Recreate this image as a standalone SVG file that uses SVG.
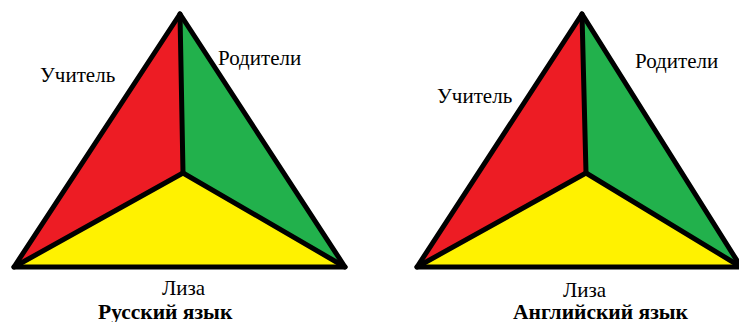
<svg xmlns="http://www.w3.org/2000/svg" width="739" height="322" viewBox="0 0 739 322">
<style>
.edge{stroke:#000;stroke-width:5;stroke-linejoin:round;stroke-linecap:round;fill:none}
.r{fill:#ED1C24}.g{fill:#22B14C}.y{fill:#FFF200}
text{font-family:'Liberation Serif','Times New Roman','DejaVu Serif',serif;fill:#000}
.lbl{font-size:21px}
.ttl{font-size:21.5px;font-weight:bold}
</style>
<rect width="739" height="322" fill="#fff"/>
<g id="triangle-russian">
<polygon class="r" points="180,14 183,173 14,267"/>
<polygon class="g" points="180,14 345,267 183,173"/>
<polygon class="y" points="14,267 183,173 345,267"/>
<polygon class="edge" points="180,14 345,267 14,267"/>
<polyline class="edge" points="180,14 183,173"/>
<polyline class="edge" points="14,267 183,173 345,267"/>
<text class="lbl" x="40" y="82">Учитель</text>
<text class="lbl" x="218" y="65">Родители</text>
<text class="lbl" x="162" y="295">Лиза</text>
<text class="ttl" x="98" y="319">Русский язык</text>
</g>
<g id="triangle-english">
<polygon class="r" points="582,14 586,173 417,267"/>
<polygon class="g" points="582,14 741,267 586,173"/>
<polygon class="y" points="417,267 586,173 741,267"/>
<polygon class="edge" points="582,14 741,267 417,267"/>
<polyline class="edge" points="582,14 586,173"/>
<polyline class="edge" points="417,267 586,173 741,267"/>
<text class="lbl" x="437" y="103">Учитель</text>
<text class="lbl" x="635" y="68">Родители</text>
<text class="lbl" x="563" y="297">Лиза</text>
<text class="ttl" x="513" y="319">Английский язык</text>
</g>
</svg>
